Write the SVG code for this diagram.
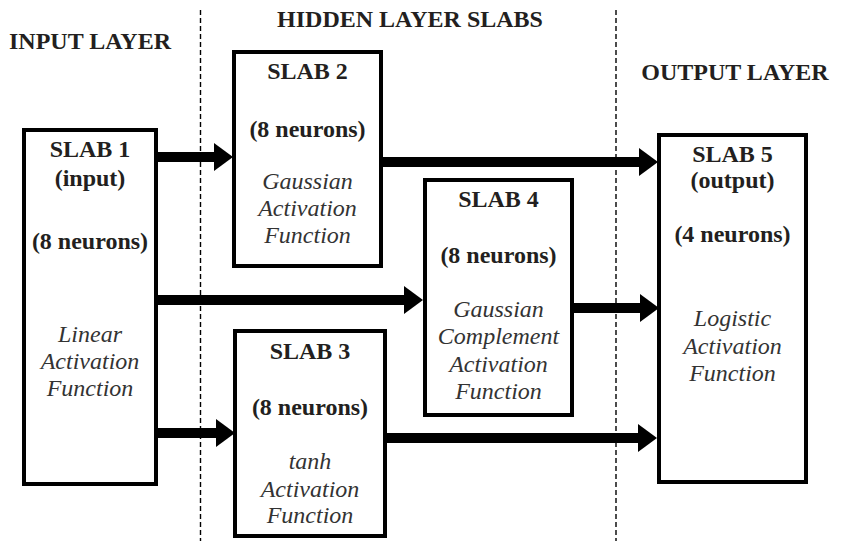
<svg xmlns="http://www.w3.org/2000/svg" width="843" height="541" viewBox="0 0 843 541">
<defs>
<marker id="ah" markerUnits="userSpaceOnUse" markerWidth="20" markerHeight="30" refX="0" refY="14" orient="auto" overflow="visible">
<path d="M0,0 L19,14 L0,28 Z" fill="#000"/>
</marker>
</defs>
<rect width="843" height="541" fill="#fff"/>
<g id="dividers" stroke="#000" stroke-width="1.4" stroke-dasharray="5 3" fill="none">
<line x1="200.5" y1="10" x2="200.5" y2="541"/>
<line x1="616" y1="10" x2="616" y2="541"/>
</g>
<g id="headers" font-family="Liberation Serif" font-size="24" text-anchor="middle">
<text x="90" y="49" font-family="Liberation Serif" font-weight="bold" fill="#231f20">INPUT LAYER</text>
<text x="410" y="27" font-family="Liberation Serif" font-weight="bold" fill="#231f20">HIDDEN LAYER SLABS</text>
<text x="735" y="80" font-family="Liberation Serif" font-weight="bold" fill="#231f20">OUTPUT LAYER</text>
</g>
<g id="connectors" stroke="#000" stroke-width="10" fill="none" marker-end="url(#ah)">
<line x1="158" y1="157" x2="214" y2="157"/>
<line x1="383" y1="162" x2="639" y2="162"/>
<line x1="158" y1="300" x2="404" y2="300"/>
<line x1="158" y1="433" x2="216" y2="433"/>
<line x1="574" y1="308" x2="640" y2="308"/>
<line x1="387" y1="438" x2="638" y2="438"/>
</g>
<g id="slab1" font-family="Liberation Serif" font-size="24" text-anchor="middle">
<rect x="24" y="130" width="132" height="354" fill="#fff" stroke="#000" stroke-width="4"/>
<text x="90" y="157" font-family="Liberation Serif" font-weight="bold" fill="#231f20">SLAB 1</text>
<text x="90" y="186" font-family="Liberation Serif" font-weight="bold" fill="#231f20">(input)</text>
<text x="90" y="249" font-family="Liberation Serif" font-weight="bold" fill="#231f20">(8 neurons)</text>
<text x="90" y="342" font-family="Liberation Serif" font-style="italic" fill="#333">Linear</text>
<text x="90" y="369" font-family="Liberation Serif" font-style="italic" fill="#333">Activation</text>
<text x="90" y="396" font-family="Liberation Serif" font-style="italic" fill="#333">Function</text>
</g>
<g id="slab2" font-family="Liberation Serif" font-size="24" text-anchor="middle">
<rect x="234" y="52" width="147" height="214" fill="#fff" stroke="#000" stroke-width="4"/>
<text x="307.5" y="79" font-family="Liberation Serif" font-weight="bold" fill="#231f20">SLAB 2</text>
<text x="307.5" y="137" font-family="Liberation Serif" font-weight="bold" fill="#231f20">(8 neurons)</text>
<text x="307.5" y="189" font-family="Liberation Serif" font-style="italic" fill="#333">Gaussian</text>
<text x="307.5" y="216" font-family="Liberation Serif" font-style="italic" fill="#333">Activation</text>
<text x="307.5" y="243" font-family="Liberation Serif" font-style="italic" fill="#333">Function</text>
</g>
<g id="slab3" font-family="Liberation Serif" font-size="24" text-anchor="middle">
<rect x="235" y="331" width="150" height="205" fill="#fff" stroke="#000" stroke-width="4"/>
<text x="310" y="359" font-family="Liberation Serif" font-weight="bold" fill="#231f20">SLAB 3</text>
<text x="310" y="415" font-family="Liberation Serif" font-weight="bold" fill="#231f20">(8 neurons)</text>
<text x="310" y="469" font-family="Liberation Serif" font-style="italic" fill="#333">tanh</text>
<text x="310" y="497" font-family="Liberation Serif" font-style="italic" fill="#333">Activation</text>
<text x="310" y="523" font-family="Liberation Serif" font-style="italic" fill="#333">Function</text>
</g>
<g id="slab4" font-family="Liberation Serif" font-size="24" text-anchor="middle">
<rect x="425" y="180" width="147" height="235" fill="#fff" stroke="#000" stroke-width="4"/>
<text x="498.5" y="207" font-family="Liberation Serif" font-weight="bold" fill="#231f20">SLAB 4</text>
<text x="498.5" y="263" font-family="Liberation Serif" font-weight="bold" fill="#231f20">(8 neurons)</text>
<text x="498.5" y="317" font-family="Liberation Serif" font-style="italic" fill="#333">Gaussian</text>
<text x="498.5" y="344" font-family="Liberation Serif" font-style="italic" fill="#333">Complement</text>
<text x="498.5" y="372" font-family="Liberation Serif" font-style="italic" fill="#333">Activation</text>
<text x="498.5" y="399" font-family="Liberation Serif" font-style="italic" fill="#333">Function</text>
</g>
<g id="slab5" font-family="Liberation Serif" font-size="24" text-anchor="middle">
<rect x="659" y="135" width="147" height="347" fill="#fff" stroke="#000" stroke-width="4"/>
<text x="732.5" y="162" font-family="Liberation Serif" font-weight="bold" fill="#231f20">SLAB 5</text>
<text x="732.5" y="188" font-family="Liberation Serif" font-weight="bold" fill="#231f20">(output)</text>
<text x="732.5" y="242" font-family="Liberation Serif" font-weight="bold" fill="#231f20">(4 neurons)</text>
<text x="732.5" y="326" font-family="Liberation Serif" font-style="italic" fill="#333">Logistic</text>
<text x="732.5" y="354" font-family="Liberation Serif" font-style="italic" fill="#333">Activation</text>
<text x="732.5" y="381" font-family="Liberation Serif" font-style="italic" fill="#333">Function</text>
</g>
</svg>
